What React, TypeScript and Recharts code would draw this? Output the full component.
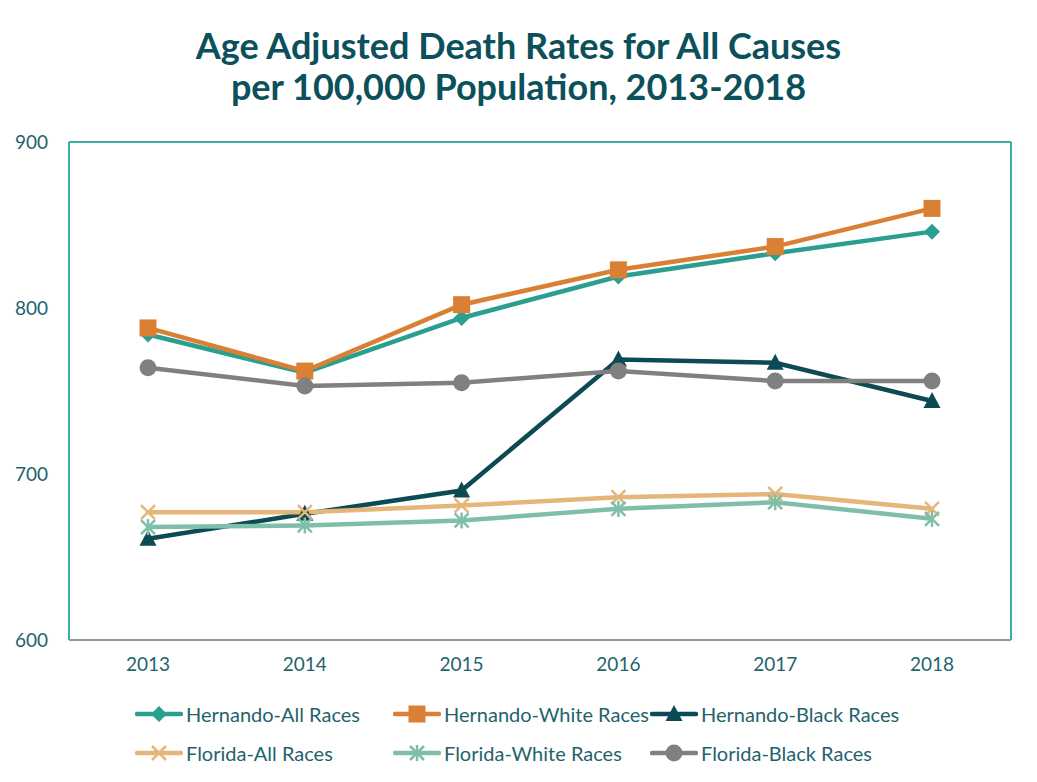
import { LineChart, Line, XAxis, YAxis, CartesianGrid, ReferenceLine } from "recharts";

const years = ["2013", "2014", "2015", "2016", "2017", "2018"];
const hernandoAll = [784, 761, 794, 819, 833, 846];
const hernandoWhite = [788, 762, 802, 823, 837, 860];
const hernandoBlack = [661, 676, 690, 769, 767, 744];
const floridaAll = [677, 677, 681, 686, 688, 679];
const floridaWhite = [668, 669, 672, 679, 683, 673];
const floridaBlack = [764, 753, 755, 762, 756, 756];
const yTicks = [600, 700, 800, 900];

const data = years.map((year, i) => ({
  year,
  hAll: hernandoAll[i],
  hWhite: hernandoWhite[i],
  hBlack: hernandoBlack[i],
  fAll: floridaAll[i],
  fWhite: floridaWhite[i],
  fBlack: floridaBlack[i],
}));

type Shape = "diamond" | "square" | "triangle" | "x" | "star" | "circle";

const series: { key: string; name: string; color: string; shape: Shape }[] = [
  { key: "hAll", name: "Hernando-All Races", color: "#2a9e8f", shape: "diamond" },
  { key: "hWhite", name: "Hernando-White Races", color: "#d98034", shape: "square" },
  { key: "hBlack", name: "Hernando-Black Races", color: "#0c4a54", shape: "triangle" },
  { key: "fAll", name: "Florida-All Races", color: "#e5b679", shape: "x" },
  { key: "fWhite", name: "Florida-White Races", color: "#7fbfaa", shape: "star" },
  { key: "fBlack", name: "Florida-Black Races", color: "#808080", shape: "circle" },
];

const FONT = "Lato, 'Open Sans', sans-serif";
const TEAL = "#3aafa3";
const GRID = "#8d989d";
const TEXT = "#1f636c";

function marker(shape: Shape, cx: number, cy: number, color: string, key?: any) {
  switch (shape) {
    case "diamond":
      return <polygon key={key} points={`${cx},${cy - 8} ${cx + 8},${cy} ${cx},${cy + 8} ${cx - 8},${cy}`} fill={color} />;
    case "square":
      return <rect key={key} x={cx - 8.5} y={cy - 8.5} width={17} height={17} fill={color} />;
    case "triangle":
      return <polygon key={key} points={`${cx},${cy - 9} ${cx + 8.5},${cy + 7} ${cx - 8.5},${cy + 7}`} fill={color} />;
    case "x":
      return (
        <g key={key} stroke={color} strokeWidth={2.5}>
          <line x1={cx - 7} y1={cy - 7} x2={cx + 7} y2={cy + 7} />
          <line x1={cx - 7} y1={cy + 7} x2={cx + 7} y2={cy - 7} />
        </g>
      );
    case "star":
      return (
        <g key={key} stroke={color} strokeWidth={2.5}>
          <line x1={cx - 7} y1={cy - 7} x2={cx + 7} y2={cy + 7} />
          <line x1={cx - 7} y1={cy + 7} x2={cx + 7} y2={cy - 7} />
          <line x1={cx} y1={cy - 8} x2={cx} y2={cy + 8} />
        </g>
      );
    default:
      return <circle key={key} cx={cx} cy={cy} r={8.5} fill={color} />;
  }
}

const LegendIcon = ({ color, shape }: { color: string; shape: Shape }) => (
  <svg width={48} height={20} style={{ marginRight: 3 }}>
    <line x1={2} y1={10} x2={46} y2={10} stroke={color} strokeWidth={4.5} strokeLinecap="round" />
    {marker(shape, 24, 10, color)}
  </svg>
);

const legendCols = [135, 393, 650];

export default function App() {
  return (
    <div style={{ position: "relative", width: 1037, height: 782, margin: -8, background: "#fff", fontFamily: FONT, overflow: "hidden" }}>
      <div style={{ position: "absolute", left: 1, top: 1, width: 1034, height: 790, border: "2px solid #87949a", boxSizing: "border-box" }} />
      <div
        style={{
          position: "absolute",
          top: 25,
          left: 0,
          width: 1037,
          textAlign: "center",
          color: "#0b505b",
          fontWeight: 700,
          fontSize: 36,
          lineHeight: "41px",
        }}
      >
        Age Adjusted Death Rates for All Causes
        <br />
        per 100,000 Population, 2013-2018
      </div>
      <div style={{ position: "absolute", left: 0, top: 0 }}>
        <LineChart width={1037} height={782} data={data} margin={{ top: 142, right: 25, left: 9, bottom: 102 }}>
          <CartesianGrid vertical={false} horizontalValues={[700, 800]} stroke={GRID} strokeWidth={2} />
          <XAxis
            dataKey="year"
            padding={{ left: 79, right: 79 }}
            axisLine={{ stroke: GRID, strokeWidth: 2 }}
            tickLine={false}
            tickMargin={12}
            height={40}
            tick={{ fill: TEXT, fontSize: 19, fontFamily: FONT }}
          />
          <YAxis
            yAxisId="left"
            domain={[600, 900]}
            ticks={yTicks}
            width={60}
            axisLine={{ stroke: TEAL, strokeWidth: 2 }}
            tickLine={false}
            tickMargin={15}
            tick={{ fill: TEXT, fontSize: 19, fontFamily: FONT }}
          />
          <YAxis
            yAxisId="right"
            orientation="right"
            domain={[600, 900]}
            width={1}
            axisLine={{ stroke: TEAL, strokeWidth: 2 }}
            tick={false}
            tickLine={false}
          />
          <ReferenceLine yAxisId="left" y={900} stroke={TEAL} strokeWidth={2} />
          {series.map((s) => (
            <Line
              key={s.key}
              yAxisId="left"
              dataKey={s.key}
              name={s.name}
              stroke={s.color}
              strokeWidth={4.5}
              type="linear"
              isAnimationActive={false}
              activeDot={false}
              dot={(p: any) => marker(s.shape, p.cx, p.cy, s.color, `${s.key}-${p.index}`)}
            />
          ))}
        </LineChart>
      </div>
      {series.map((s, i) => (
        <div
          key={s.key}
          style={{
            position: "absolute",
            left: legendCols[i % 3],
            top: i < 3 ? 702 : 741,
            display: "flex",
            alignItems: "center",
            color: TEXT,
            fontSize: 20,
            whiteSpace: "nowrap",
          }}
        >
          <LegendIcon color={s.color} shape={s.shape} />
          <span>{s.name}</span>
        </div>
      ))}
    </div>
  );
}
